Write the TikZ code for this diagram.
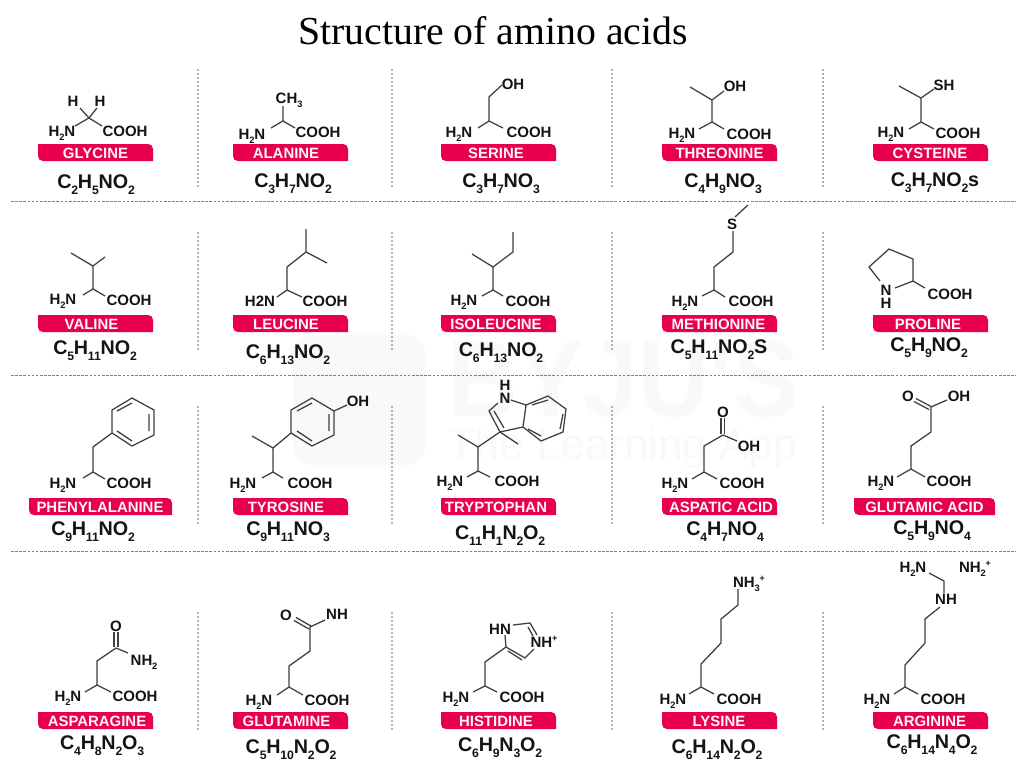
\documentclass[tikz,border=0pt]{standalone}
\usepackage{fontspec}
\setmainfont{Liberation Serif}
\newfontfamily\arial{Liberation Sans}
\definecolor{bannerred}{HTML}{E8004C}
\definecolor{bondgrey}{HTML}{3F3F3F}
\definecolor{inkblack}{HTML}{141414}
\definecolor{wmark}{HTML}{F9F9F9}
\newcommand\sbs[1]{\kern-.01em\raisebox{-.3em}{\scalebox{.62}{#1}}\kern-.01em}
\newcommand\sps[1]{\raisebox{.36em}{\scalebox{.6}{#1}}}
\newcommand\atm[3]{\node[atomlabel] (#1) at (#2) {#3};}
\newcommand\frm[3]{\node[formula] (#1) at (#2) {#3};}
% name, left x, top y, width, text centre x, text
\newcommand\bann[6]{%
  \fill[bannerred] (#2,#3) -- ({#2+#4-5},#3) .. controls ({#2+#4-2},#3) and ({#2+#4},{#3+2}) .. ({#2+#4},{#3+5})
    -- ({#2+#4},{#3+17}) -- ({#2+5},{#3+17}) .. controls ({#2+2},{#3+17}) and (#2,{#3+15}) .. (#2,{#3+12}) -- cycle;
  \node[bannertext] (#1) at (#5,{#3+8.5}) {#6};}
\tikzset{
  bond/.style={draw=bondgrey,line width=.95pt,line join=miter},
  atomlabel/.style={font=\arial\bfseries\fontsize{11.25}{12}\selectfont,text=inkblack,anchor=base,yshift=-4pt,inner sep=0pt},
  formula/.style={font=\arial\bfseries\fontsize{14.8}{16}\selectfont,text=inkblack,anchor=base,yshift=-5.2pt,inner sep=0pt},
  bannertext/.style={font=\arial\bfseries\fontsize{11.2}{12}\selectfont,text=white!96!bannerred,anchor=base,yshift=-4.5pt,inner sep=0pt},
  vsep/.style={draw=black!30,line width=1.5pt,dash pattern=on 1.5pt off 1.5pt},
  hsep/.style={draw=black!50,line width=.75pt,dash pattern=on 2pt off 1.1pt},
}
\begin{document}
\begin{tikzpicture}[x=0.75pt,y=-0.75pt]
\useasboundingbox (0,0) rectangle (1024,768);
\fill[white] (0,0) rectangle (1024,768);
% watermark
\fill[wmark,rounded corners=14pt] (293,335) rectangle (425,465);
\node[inner sep=0pt,text=wmark,font=\arial\bfseries\fontsize{82}{90}\selectfont] (wm1) at (623,379) {\scalebox{.9}[1]{BYJU'S}};
\node[inner sep=0pt,text=wmark,font=\arial\fontsize{33}{40}\selectfont] (wm2) at (623,448) {The Learning App};
% title
\node[font=\fontsize{29.8}{34}\selectfont,text=black,inner sep=0pt] (title) at (493,31) {Structure of amino acids};
% separators
\coordinate (hl1) at (11,201); \coordinate (hr1) at (1016,201);
\coordinate (hl2) at (11,375); \coordinate (hr2) at (1016,375);
\coordinate (hl3) at (11,551.5); \coordinate (hr3) at (1016,551.5);
\draw[hsep] (hl1) -- (hr1);
\draw[hsep] (hl2) -- (hr2);
\draw[hsep] (hl3) -- (hr3);
\foreach \x in {198,392,612,823}{
  \draw[vsep] (\x,69) -- (\x,187);
  \draw[vsep] (\x,232) -- (\x,350);
  \draw[vsep] (\x,406) -- (\x,524);
  \draw[vsep] (\x,612) -- (\x,730);
}
% ---------- row 1
% glycine
\draw[bond] (80,108) -- (89,118) -- (97,108) (75,126) -- (89,118) -- (102,126);
\atm{glyh1}{73,101}{H} \atm{glyh2}{100,101}{H} \atm{glyn}{62,131}{H\sbs{2}N} \atm{glyc}{125,131}{COOH}
\bann{glyb}{38}{144}{115}{95.5}{GLYCINE}
\frm{glyf}{96,182}{C\sbs{2}H\sbs{5}NO\sbs{2}}
% alanine
\draw[bond] (283,106) -- (283,121) (271,128) -- (283,121) -- (295,128);
\atm{alach}{289,98}{CH\sbs{3}} \atm{alan}{252,134}{H\sbs{2}N} \atm{alac}{318,132}{COOH}
\bann{alab}{233}{144}{115}{286}{ALANINE}
\frm{alaf}{293,181}{C\sbs{3}H\sbs{7}NO\sbs{2}}
% serine
\draw[bond] (502,85) -- (489,97) -- (489,121) (478,128) -- (489,121) -- (503,128);
\atm{serh}{513,84}{OH} \atm{sern}{459,132}{H\sbs{2}N} \atm{serc}{529,132}{COOH}
\bann{serb}{441}{144}{115}{496}{SERINE}
\frm{serf}{501,181}{C\sbs{3}H\sbs{7}NO\sbs{3}}
% threonine
\draw[bond] (690,87) -- (712,100) -- (724,91) (712,100) -- (712,122) (699,129) -- (712,122) -- (724,129);
\atm{thrh}{735,86}{OH} \atm{thrn}{682,133}{H\sbs{2}N} \atm{thrc}{749,134}{COOH}
\bann{thrb}{662}{144}{115}{719.5}{THREONINE}
\frm{thrf}{723,181}{C\sbs{4}H\sbs{9}NO\sbs{3}}
% cysteine
\draw[bond] (899,86) -- (921,98) -- (934,89) (921,98) -- (921,122) (909,129) -- (921,122) -- (934,129);
\atm{cysh}{944,85}{SH} \atm{cysn}{891,132}{H\sbs{2}N} \atm{cysc}{958,133}{COOH}
\bann{cysb}{873}{144}{115}{930}{CYSTEINE}
\frm{cysf}{935,180}{C\sbs{3}H\sbs{7}NO\sbs{2}s}
% ---------- row 2
% valine
\draw[bond] (71,253) -- (93,266) -- (105,257) (93,266) -- (93,289) (83,295) -- (93,289) -- (105,296);
\atm{valn}{63,299}{H\sbs{2}N} \atm{valc}{129,300}{COOH}
\bann{valb}{38}{315}{115}{91.5}{VALINE}
\frm{valf}{95,348}{C\sbs{5}H\sbs{11}NO\sbs{2}}
% leucine
\draw[bond] (306,229) -- (306,252) (327,263) -- (306,252) -- (287,267) -- (287,290) (277,297) -- (287,290) -- (302,297);
\atm{leun}{260,301}{H2N} \atm{leuc}{325,301}{COOH}
\bann{leub}{233}{315}{115}{286}{LEUCINE}
\frm{leuf}{288,352}{C\sbs{6}H\sbs{13}NO\sbs{2}}
% isoleucine
\draw[bond] (472,254) -- (493,267) -- (513,252) -- (513,232) (493,267) -- (493,290) (482,296) -- (493,290) -- (503,296);
\atm{ilen}{464,300}{H\sbs{2}N} \atm{ilec}{528,301}{COOH}
\bann{ileb}{441}{315}{115}{496}{ISOLEUCINE}
\frm{ilef}{501,350}{C\sbs{6}H\sbs{13}NO\sbs{2}}
% methionine
\draw[bond] (748,205) -- (735,217) (733,231) -- (733,252) -- (714,267) -- (714,290) (702,296) -- (714,290) -- (725,297);
\atm{mets}{732,224}{S} \atm{metn}{685,301}{H\sbs{2}N} \atm{metc}{751,301}{COOH}
\bann{metb}{662}{315}{115}{718.5}{METHIONINE}
\frm{metf}{719,347}{C\sbs{5}H\sbs{11}NO\sbs{2}S}
% proline
\draw[bond] (880,281) -- (869,267) -- (889,249) -- (913,259) -- (913,281) -- (895,288) (913,281) -- (925,288);
\atm{pron}{886,290}{N} \atm{proh}{886,303}{H} \atm{proc}{950,294}{COOH}
\bann{prob}{873}{315}{115}{928}{PROLINE}
\frm{prof}{929,345}{C\sbs{5}H\sbs{9}NO\sbs{2}}
% ---------- row 3
% phenylalanine
\draw[bond] (132,398) -- (154,410) -- (154,435) -- (132,446) -- (112,433) -- (112,410) -- cycle;
\draw[bond] (117,411) -- (132,403) (149,414) -- (149,431) (117,431) -- (132,441);
\draw[bond] (112,433) -- (93,447) -- (93,472) (83,478) -- (93,472) -- (105,479);
\atm{phen}{63,483}{H\sbs{2}N} \atm{phec}{129,483}{COOH}
\bann{pheb}{29}{498}{143}{100}{PHENYLALANINE}
\frm{phef}{93,529}{C\sbs{9}H\sbs{11}NO\sbs{2}}
% tyrosine
\draw[bond] (312,398) -- (334,411) -- (334,435) -- (312,446) -- (291,433) -- (291,410) -- cycle;
\draw[bond] (297,411) -- (312,403) (329,414) -- (329,431) (297,431) -- (312,441);
\draw[bond] (334,411) -- (347,405) (252,436) -- (273,448) -- (291,433) (273,448) -- (273,472) (262,478) -- (273,472) -- (283,478);
\atm{tyrh}{358,401}{OH} \atm{tyrn}{243,483}{H\sbs{2}N} \atm{tyrc}{310,483}{COOH}
\bann{tyrb}{233}{498}{115}{286}{TYROSINE}
\frm{tyrf}{288,529}{C\sbs{9}H\sbs{11}NO\sbs{3}}
% tryptophan
\draw[bond] (498,403) -- (489,411) -- (500,432) -- (523,427) -- (526,405) -- (511,400);
\draw[bond] (494,411) -- (504,428);
\draw[bond] (526,405) -- (548,396) -- (566,409) -- (563,432) -- (541,441) -- (523,427);
\draw[bond] (532,405) -- (548,400) (563,414) -- (560,429) (528,429) -- (541,436);
\draw[bond] (500,432) -- (518,444) (500,432) -- (478,447) -- (458,435) (478,447) -- (478,471) (467,477) -- (478,471) -- (490,477);
\atm{trph}{505,385}{H} \atm{trpi}{505,398}{N} \atm{trpn}{450,481}{H\sbs{2}N} \atm{trpc}{517,481}{COOH}
\bann{trpb}{441}{498}{115}{496}{TRYPTOPHAN}
\frm{trpf}{500,533}{C\sbs{11}H\sbs{1}N\sbs{2}O\sbs{2}}
% aspartic acid
\draw[bond] (721,418) -- (721,434) (724.5,418) -- (724.5,434);
\draw[bond] (737,441) -- (723,435) -- (704,446) -- (704,472) (692,479) -- (704,472) -- (717,479);
\atm{asoo}{723,412}{O} \atm{asoh}{749,446}{OH} \atm{aspn}{675,483}{H\sbs{2}N} \atm{aspc}{742,483}{COOH}
\bann{aspb}{662}{498}{115}{721}{ASPATIC ACID}
\frm{aspf}{725,529}{C\sbs{4}H\sbs{7}NO\sbs{4}}
% glutamic acid
\draw[bond] (916,398.5) -- (931,406.5) (914,401.5) -- (929,409.5);
\draw[bond] (947,400) -- (931,407) -- (931,432) -- (911,446) -- (911,469) (897,477) -- (911,469) -- (925,477);
\atm{gluo}{908,396}{O} \atm{gluh}{959,396}{OH} \atm{glun}{881,481}{H\sbs{2}N} \atm{gluc}{949,481}{COOH}
\bann{glub}{854}{498}{141}{924.5}{GLUTAMIC ACID}
\frm{gluf}{932,528}{C\sbs{5}H\sbs{9}NO\sbs{4}}
% ---------- row 4
% asparagine
\draw[bond] (114,632) -- (114,647) (118,632) -- (118,647);
\draw[bond] (128,653) -- (116,648) -- (97,661) -- (97,685) (85,692) -- (97,685) -- (111,692);
\atm{asno}{116,626}{O} \atm{asnh}{144,660}{NH\sbs{2}} \atm{asnn}{68,696}{H\sbs{2}N} \atm{asnc}{135,696}{COOH}
\bann{asnb}{38}{712}{115}{97}{ASPARAGINE}
\frm{asnf}{102,743}{C\sbs{4}H\sbs{8}N\sbs{2}O\sbs{3}}
% glutamine
\draw[bond] (296,617.5) -- (311,626) (294,620.5) -- (309,629);
\draw[bond] (325,620) -- (310,627) -- (310,651) -- (289,666) -- (289,687) (277,695) -- (289,687) -- (303,695);
\atm{glno}{286,615}{O} \atm{glnh}{337,614}{NH} \atm{glnn}{259,700}{H\sbs{2}N} \atm{glnc}{327,700}{COOH}
\bann{glnb}{233}{712}{115}{286.5}{GLUTAMINE}
\frm{glnf}{291,747}{C\sbs{5}H\sbs{10}N\sbs{2}O\sbs{2}}
% histidine
\draw[bond] (505,635) -- (506,647) -- (525,658) -- (534,649) (508,651) -- (522,660);
\draw[bond] (513,625) -- (530,623) -- (537,635) (528,627) -- (533,636);
\draw[bond] (506,647) -- (485,662) -- (485,686) (473,692) -- (485,686) -- (497,692);
\atm{hish}{500,629}{HN} \atm{hisp}{544,642}{NH\sps{+}} \atm{hisn}{456,697}{H\sbs{2}N} \atm{hisc}{522,697}{COOH}
\bann{hisb}{441}{712}{115}{496}{HISTIDINE}
\frm{hisf}{500,745}{C\sbs{6}H\sbs{9}N\sbs{3}O\sbs{2}}
% lysine
\draw[bond] (738,589) -- (738,605) -- (721,619) -- (721,643) -- (701,664) -- (701,687) (689,694) -- (701,687) -- (714,694);
\atm{lysh}{749,582}{NH\sbs{3}\sps{+}} \atm{lysn}{673,699}{H\sbs{2}N} \atm{lysc}{739,699}{COOH}
\bann{lysb}{662}{712}{115}{719}{LYSINE}
\frm{lysf}{717,747}{C\sbs{6}H\sbs{14}N\sbs{2}O\sbs{2}}
% arginine
\draw[bond] (929,573) -- (944,581) -- (944,593) (940,607) -- (925,619) -- (925,643) -- (905,665) -- (905,687) (894,694) -- (905,687) -- (918,694);
\atm{argh}{913,567}{H\sbs{2}N} \atm{argp}{975,567}{NH\sbs{2}\sps{+}} \atm{argi}{946,599}{NH} \atm{argn}{877,699}{H\sbs{2}N} \atm{argc}{943,699}{COOH}
\bann{argb}{873}{712}{115}{929.5}{ARGININE}
\frm{argf}{932,742}{C\sbs{6}H\sbs{14}N\sbs{4}O\sbs{2}}
\end{tikzpicture}
\end{document}
